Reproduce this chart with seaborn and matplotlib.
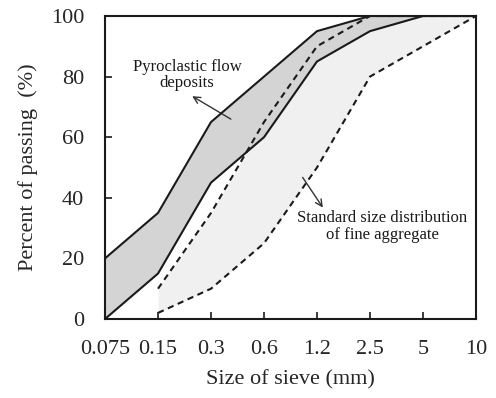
import matplotlib
matplotlib.use("Agg")
import matplotlib.pyplot as plt
import seaborn as sns
import numpy as np
import pandas as pd

sizes = ["0.075", "0.15", "0.3", "0.6", "1.2", "2.5", "5", "10"]
pyro_upper = [20, 35, 65, 80, 95, 100, 100, 100]
pyro_lower = [0, 15, 45, 60, 85, 95, 100, 100]
std_sizes = ["0.15", "0.3", "0.6", "1.2", "2.5", "5", "10"]
std_upper = [10, 35, 65, 90, 100, 100, 100]
std_lower = [2, 10, 25, 50, 80, 90, 100]

sns.set_theme(style="ticks")
plt.rcParams['font.family'] = ['Liberation Serif', 'DejaVu Serif']

fig = plt.figure(figsize=(4.96, 3.98), dpi=100)
ax = fig.add_axes([0.2117, 0.1985, 0.748, 0.7613])

xp = np.arange(len(sizes))
xs = np.array([sizes.index(s) for s in std_sizes])

ax.fill_between(xs, std_lower, std_upper, color="#f0f0f0", lw=0, zorder=1)
ax.fill_between(xp, pyro_lower, pyro_upper, color="#d4d4d4", lw=0, zorder=2)

df_p = pd.DataFrame({"x": np.concatenate([xp, xp]),
                     "y": pyro_upper + pyro_lower,
                     "s": ["pu"] * len(xp) + ["pl"] * len(xp)})
df_s = pd.DataFrame({"x": np.concatenate([xs, xs]),
                     "y": std_upper + std_lower,
                     "s": ["su"] * len(xs) + ["sl"] * len(xs)})
sns.lineplot(data=df_s, x="x", y="y", units="s", estimator=None, color="#1a1a1a",
             lw=1.5, linestyle=(0, (3, 2.2)), ax=ax, zorder=3, legend=False)
sns.lineplot(data=df_p, x="x", y="y", units="s", estimator=None, color="#1a1a1a",
             lw=1.5, ax=ax, zorder=4, legend=False)

ax.set_xlim(0, len(sizes) - 1)
ax.set_ylim(0, 100)
ax.set_xticks(xp)
ax.set_xticklabels(sizes)
ax.set_yticks([0, 20, 40, 60, 80, 100])
ax.tick_params(direction="in", length=5, width=1.2, labelsize=16, pad=15, color="#1a1a1a")
for s in ax.spines.values():
    s.set_linewidth(1.5)
    s.set_color("#1a1a1a")
ax.set_xlabel("Size of sieve (mm)", fontsize=16, labelpad=8)
ax.set_ylabel("Percent of passing  (%)", fontsize=16, labelpad=9)

ax.annotate("Pyroclastic flow\ndeposits", xy=(1.6, 86.5), xytext=(1.55, 80.5),
            ha="center", va="center", fontsize=12, linespacing=1.05, color="#1a1a1a")
ax.annotate("", xy=(1.6, 74), xytext=(2.42, 65.5),
            arrowprops=dict(arrowstyle="->", color="#333333", lw=1))
ax.annotate("Standard size distribution\nof fine aggregate", xy=(5.23, 30.5),
            ha="center", va="center", fontsize=12, linespacing=1.05, color="#1a1a1a")
ax.annotate("", xy=(4.14, 36), xytext=(3.7, 47.5),
            arrowprops=dict(arrowstyle="->", color="#333333", lw=1))
ax.set_facecolor("white")

fig.savefig("out.png", dpi=100, facecolor="white")
